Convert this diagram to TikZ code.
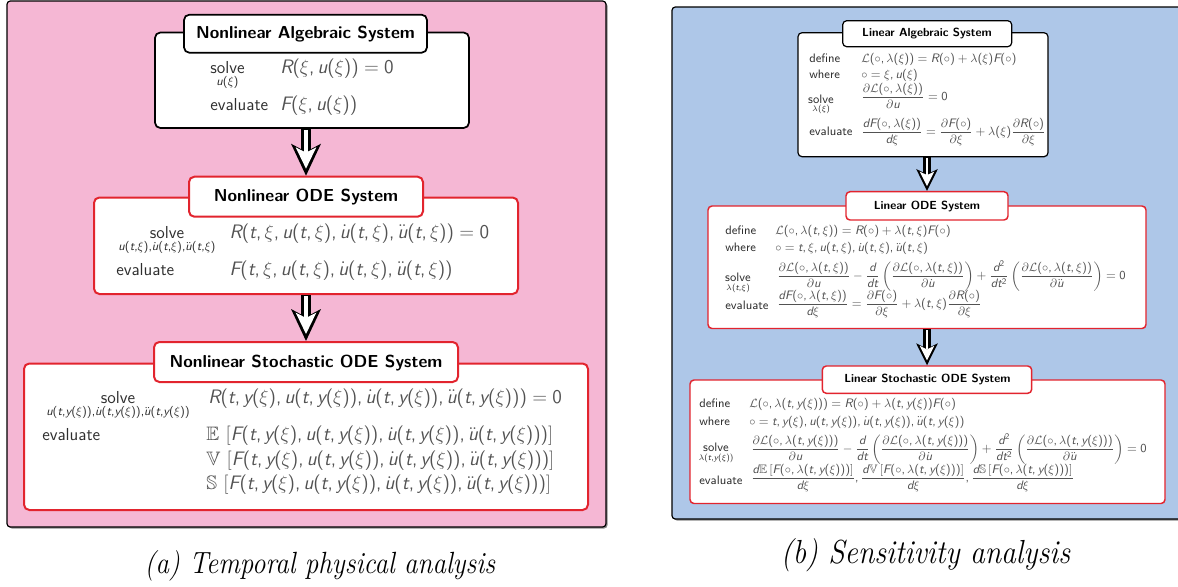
\documentclass[tikz,border=0pt]{standalone}
\usepackage{amsmath,amssymb}
\usepackage{graphicx}
\usetikzlibrary{arrows.meta,fit}
\DeclareSymbolFont{sfit}{TU}{lmss}{m}{sl}
\DeclareSymbolFont{sfup}{TU}{lmss}{m}{n}
\DeclareMathSymbol{R}{\mathalpha}{sfit}{`R}
\DeclareMathSymbol{F}{\mathalpha}{sfit}{`F}
\DeclareMathSymbol{u}{\mathalpha}{sfit}{`u}
\DeclareMathSymbol{t}{\mathalpha}{sfit}{`t}
\DeclareMathSymbol{y}{\mathalpha}{sfit}{`y}
\DeclareMathSymbol{d}{\mathalpha}{sfit}{`d}
\DeclareMathSymbol{0}{\mathalpha}{sfup}{`0}
\DeclareMathSymbol{2}{\mathalpha}{sfup}{`2}
\DeclareMathSymbol{(}{\mathopen}{sfup}{`(}
\DeclareMathSymbol{)}{\mathclose}{sfup}{`)}
\DeclareMathSymbol{=}{\mathrel}{sfup}{`=}
\DeclareMathSymbol{+}{\mathbin}{sfup}{`+}
\DeclareMathSymbol{,}{\mathpunct}{sfup}{`,}
\definecolor{panelpink}{RGB}{245,183,212}
\definecolor{panelblue}{RGB}{174,199,232}
\definecolor{boxred}{RGB}{226,36,46}
\tikzset{
  panelbg/.style={draw=black,line width=0.9pt,rounded corners=2.5pt},
  shadowbg/.style={fill=black!45,rounded corners=2.5pt},
  boxbase/.style={fill=white,inner sep=0pt,rounded corners=4pt},
  lblack/.style={boxbase,draw=black,line width=1.3pt},
  lred/.style={boxbase,draw=boxred,line width=1.5pt},
  rblack/.style={boxbase,draw=black,line width=0.9pt,rounded corners=3pt},
  rred/.style={boxbase,draw=boxred,line width=1.1pt,rounded corners=3pt},
  lttl/.style={inner sep=0pt,anchor=base,font=\sffamily\bfseries\fontsize{13}{15}\selectfont},
  rttl/.style={inner sep=0pt,anchor=base,font=\sffamily\bfseries\fontsize{8.8}{10.5}\selectfont},
  ltxt/.style={inner sep=0pt,text=black!82,font=\sffamily\fontsize{13}{15}\selectfont},
  lmath/.style={inner sep=0pt,text=black!68,font=\sffamily\fontsize{14.6}{17}\selectfont},
  rtxt/.style={inner sep=0pt,text=black!82,font=\sffamily\fontsize{9.2}{11}\selectfont},
  rmath/.style={rtxt,text=black!68},
  lout/.style={black,line width=7.5pt,-{Stealth[length=24pt,width=22.5pt,inset=6pt,line width=0pt]}},
  lin/.style={white,line width=3pt,shorten >=5.3pt,shorten <=0.8pt,-{Stealth[length=16pt,width=15.5pt,inset=4pt,line width=0pt]}},
  rout/.style={black,line width=5.5pt,-{Stealth[length=16.5pt,width=16.3pt,inset=4pt,line width=0pt]}},
  rin/.style={white,line width=2pt,shorten >=3.6pt,shorten <=0.6pt,-{Stealth[length=11pt,width=11pt,inset=2.7pt,line width=0pt]}},
  captxt/.style={inner sep=0pt,anchor=base,font=\itshape}
}
\begin{document}
\begin{tikzpicture}[x=0.75pt,y=-0.75pt]
\useasboundingbox (0,0) rectangle (1178,586);
% panels
\fill[shadowbg] (8.5,2.5) rectangle (607.5,528.5);
\draw[panelbg,fill=panelpink] (7,1) rectangle (606,527);
\fill[shadowbg] (673.5,8.5) rectangle (1190,520.5);
\draw[panelbg,fill=panelblue] (672,7) rectangle (1190,519);

% ---------- left panel ----------
\node[lblack,fit={(155,32.5)(469,128)}] (b1) {};
\node[lblack,fit={(184,14.7)(427,52.7)}] (t1) {};
\node[lttl] (tt1) at (305.5,38.3) {Nonlinear Algebraic System};
\node[ltxt,anchor=base] (s1) at (227.5,73.3) {$\underset{u(\xi)}{\text{solve}}$};
\node[lmath,anchor=base west] (q1) at (280,73.3) {$R(\xi,u(\xi))=0$};
\node[ltxt,anchor=base west] (v1) at (210,110) {evaluate};
\node[lmath,anchor=base west] (g1) at (280,110) {$F(\xi,u(\xi))$};

\node[lred,fit={(94,197.5)(518,294)}] (b2) {};
\node[lred,fit={(189,176.7)(423,216.7)}] (t2) {};
\node[lttl] (tt2) at (306,201.7) {Nonlinear ODE System};
\node[ltxt,anchor=base] (s2) at (167,238.3) {$\underset{u(t,\xi),\dot{u}(t,\xi),\ddot{u}(t,\xi)}{\text{solve}}$};
\node[lmath,anchor=base west] (q2) at (229.3,238.3) {$R(t,\xi,u(t,\xi),\dot{u}(t,\xi),\ddot{u}(t,\xi))=0$};
\node[ltxt,anchor=base west] (v2) at (116,275) {evaluate};
\node[lmath,anchor=base west] (g2) at (229.3,275) {$F(t,\xi,u(t,\xi),\dot{u}(t,\xi),\ddot{u}(t,\xi))$};

\node[lred,fit={(24,363.5)(588,510)}] (b3) {};
\node[lred,fit={(154,342)(458,382)}] (t3) {};
\node[lttl] (tt3) at (306,367.3) {Nonlinear Stochastic ODE System};
\node[ltxt,anchor=base] (s3) at (118,403.3) {$\underset{u(t,y(\xi)),\dot{u}(t,y(\xi)),\ddot{u}(t,y(\xi))}{\text{solve}}$};
\node[lmath,anchor=base west] (q3) at (208,403.3) {$R(t,y(\xi),u(t,y(\xi)),\dot{u}(t,y(\xi)),\ddot{u}(t,y(\xi)))=0$};
\node[ltxt,anchor=base west] (v3) at (42,440.5) {evaluate};
\node[lmath,anchor=base west] (e3) at (206,440.5) {$\mathbb{E}\,\left[F(t,y(\xi),u(t,y(\xi)),\dot{u}(t,y(\xi)),\ddot{u}(t,y(\xi)))\right]$};
\node[lmath,anchor=base west] (f3) at (206,465) {$\mathbb{V}\,\left[F(t,y(\xi),u(t,y(\xi)),\dot{u}(t,y(\xi)),\ddot{u}(t,y(\xi)))\right]$};
\node[lmath,anchor=base west] (h3) at (206,489.5) {$\mathbb{S}\,\left[F(t,y(\xi),u(t,y(\xi)),\dot{u}(t,y(\xi)),\ddot{u}(t,y(\xi)))\right]$};

\draw[lout] (b1.south -| t2.north) -- (t2.north);
\draw[lin] (b1.south -| t2.north) -- (t2.north);
\draw[lout] (b2.south -| t3.north) -- (t3.north);
\draw[lin] (b2.south -| t3.north) -- (t3.north);

% ---------- right panel ----------
\node[rblack,fit={(798,32.7)(1048,156.7)}] (r1) {};
\node[rblack,fit={(842.7,20.7)(1011.7,46.7)}] (u1) {};
\node[rttl] (ut1) at (927,36.7) {Linear Algebraic System};
\node[rtxt,anchor=base west] (d4) at (809,62.7) {define};
\node[rmath,anchor=base west] (dq4) at (861,62.7) {$\mathcal{L}(\circ,\lambda(\xi))=R(\circ)+\lambda(\xi)F(\circ)$};
\node[rtxt,anchor=base west] (w4) at (809,78.3) {where};
\node[rmath,anchor=base west] (wq4) at (861,78.3) {$\circ=\xi,u(\xi)$};
\node[rtxt,anchor=base] (s4) at (821,103) {$\underset{\lambda(\xi)}{\text{solve}}$};
\node[rmath,anchor=base west] (q4) at (861,100.6) {$\dfrac{\partial\mathcal{L}(\circ,\lambda(\xi))}{\partial u}=0$};
\node[rtxt,anchor=base west] (v4) at (809,135) {evaluate};
\node[rmath,anchor=base west] (g4) at (861,135) {$\dfrac{dF(\circ,\lambda(\xi))}{d\xi}=\dfrac{\partial F(\circ)}{\partial\xi}+\lambda(\xi)\dfrac{\partial R(\circ)}{\partial\xi}$};

\node[rred,fit={(708,206)(1146,328.5)}] (r2) {};
\node[rred,fit={(846,191.7)(1008,220)}] (u2) {};
\node[rttl] (ut2) at (927,209) {Linear ODE System};
\node[rtxt,anchor=base west] (d5) at (725,234) {define};
\node[rmath,anchor=base west] (dq5) at (775,234) {$\mathcal{L}(\circ,\lambda(t,\xi))=R(\circ)+\lambda(t,\xi)F(\circ)$};
\node[rtxt,anchor=base west] (w5) at (725,251.7) {where};
\node[rmath,anchor=base west] (wq5) at (775,251.7) {$\circ=t,\xi,u(t,\xi),\dot{u}(t,\xi),\ddot{u}(t,\xi)$};
\node[rtxt,anchor=base] (s5) at (738,281.7) {$\underset{\lambda(t,\xi)}{\text{solve}}$};
\node[rmath,anchor=base west] (q5) at (776.7,279.3) {$\dfrac{\partial\mathcal{L}(\circ,\lambda(t,\xi))}{\partial u}-\dfrac{d}{dt}\left(\dfrac{\partial\mathcal{L}(\circ,\lambda(t,\xi))}{\partial\dot{u}}\right)+\dfrac{d^2}{dt^2}\left(\dfrac{\partial\mathcal{L}(\circ,\lambda(t,\xi))}{\partial\ddot{u}}\right)=0$};
\node[rtxt,anchor=base west] (v5) at (725,309.3) {evaluate};
\node[rmath,anchor=base west] (g5) at (776.7,307.3) {$\dfrac{dF(\circ,\lambda(t,\xi))}{d\xi}=\dfrac{\partial F(\circ)}{\partial\xi}+\lambda(t,\xi)\dfrac{\partial R(\circ)}{\partial\xi}$};

\node[rred,fit={(690,380)(1165,503.5)}] (r3) {};
\node[rred,fit={(822.3,366)(1031.7,393.3)}] (u3) {};
\node[rttl] (ut3) at (927.5,382.7) {Linear Stochastic ODE System};
\node[rtxt,anchor=base west] (d6) at (699,407.3) {define};
\node[rmath,anchor=base west] (dq6) at (749,407.3) {$\mathcal{L}(\circ,\lambda(t,y(\xi)))=R(\circ)+\lambda(t,y(\xi))F(\circ)$};
\node[rtxt,anchor=base west] (w6) at (699,425) {where};
\node[rmath,anchor=base west] (wq6) at (749,425) {$\circ=t,y(\xi),u(t,y(\xi)),\dot{u}(t,y(\xi)),\ddot{u}(t,y(\xi))$};
\node[rtxt,anchor=base] (s6) at (716,451.7) {$\underset{\lambda(t,y(\xi))}{\text{solve}}$};
\node[rmath,anchor=base west] (q6) at (750.7,452.6) {$\dfrac{\partial\mathcal{L}(\circ,\lambda(t,y(\xi)))}{\partial u}-\dfrac{d}{dt}\left(\dfrac{\partial\mathcal{L}(\circ,\lambda(t,y(\xi)))}{\partial\dot{u}}\right)+\dfrac{d^2}{dt^2}\left(\dfrac{\partial\mathcal{L}(\circ,\lambda(t,y(\xi)))}{\partial\ddot{u}}\right)=0$};
\node[rtxt,anchor=base west] (v6) at (699,484) {evaluate};
\node[rmath,anchor=base west] (g6) at (750.7,481.3) {$\dfrac{d\mathbb{E}\,[F(\circ,\lambda(t,y(\xi)))]}{d\xi},\dfrac{d\mathbb{V}\,[F(\circ,\lambda(t,y(\xi)))]}{d\xi},\dfrac{d\mathbb{S}\,[F(\circ,\lambda(t,y(\xi)))]}{d\xi}$};

\draw[rout] (r1.south -| u2.north) -- (u2.north);
\draw[rin] (r1.south -| u2.north) -- (u2.north);
\draw[rout] (r2.south -| u3.north) -- (u3.north);
\draw[rin] (r2.south -| u3.north) -- (u3.north);

% captions
\node[captxt,font=\fontsize{23}{27}\selectfont\itshape] (capa) at (320,573) {\scalebox{0.88}[1]{(a) Temporal physical analysis}};
\node[captxt,font=\fontsize{25}{29}\selectfont\itshape] (capb) at (925.5,563) {\scalebox{0.89}[1]{(b) Sensitivity analysis}};
\end{tikzpicture}
\end{document}
